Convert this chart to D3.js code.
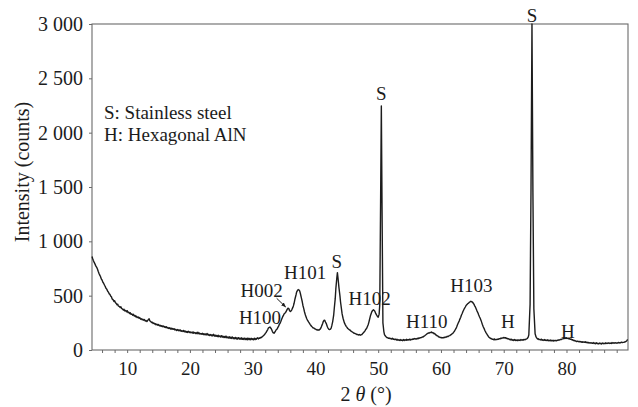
<!DOCTYPE html>
<html><head><meta charset="utf-8">
<script src="https://cdn.jsdelivr.net/npm/d3@7"></script>
<style>html,body{margin:0;padding:0;background:#fff}svg{display:block}
svg text{font-family:"Liberation Serif","Times New Roman",Times,serif !important;}</style>
</head><body><svg id="chart" width="638" height="407"></svg>
<script>
// XRD scan: [2θ (°), intensity (counts)]
const scan = [
[4.4,860],[4.5,842],[4.6,826],[4.75,806],[4.9,788],[5.0,774],[5.15,760],[5.25,748],[5.4,722],[5.5,706],[5.6,694],[5.75,676],[5.9,652],[6.0,644],[6.15,622],[6.25,614],[6.4,596],[6.5,586],[6.6,570],[6.75,560],
[6.9,540],[7.0,534],[7.15,516],[7.25,512],[7.4,494],[7.5,490],[7.6,470],[7.75,464],[7.9,446],[8.0,454],[8.15,434],[8.25,430],[8.4,416],[8.5,422],[8.6,404],[8.75,402],[8.9,390],[9.0,398],[9.15,380],[9.25,378],[9.4,368],[9.5,374],[9.6,360],[9.75,364],
[9.9,352],[10.0,362],[10.15,344],[10.25,348],[10.4,336],[10.5,342],[10.6,328],[10.75,332],[10.9,320],[11.0,328],[11.15,312],[11.25,318],[11.4,304],[11.5,310],[11.6,298],[11.75,304],[11.9,292],[12.0,298],[12.15,284],[12.25,288],[12.4,278],[12.5,284],
[12.6,274],[12.75,280],[12.9,266],[13.0,272],[13.15,262],[13.25,270],[13.4,280],[13.5,288],[13.6,270],[13.75,262],[13.9,252],[14.0,256],[14.15,244],[14.25,248],[14.4,238],[14.5,242],[14.6,232],[14.75,238],[14.9,228],[15.0,234],[15.15,222],[15.25,228],
[15.4,218],[15.5,224],[15.6,214],[15.75,222],[15.9,210],[16.0,216],[16.15,206],[16.25,214],[16.4,202],[16.5,208],[16.6,198],[16.75,204],[16.9,194],[17.0,202],[17.15,190],[17.25,198],[17.4,190],[17.5,196],[17.6,184],[17.75,190],[17.9,180],[18.0,188],
[18.15,178],[18.25,186],[18.4,176],[18.5,184],[18.6,172],[18.75,178],[18.9,170],[19.0,180],[19.15,168],[19.25,174],[19.4,164],[19.5,170],[19.6,162],[19.75,172],[19.9,160],[20.0,168],[20.15,158],[20.25,164],[20.4,156],[20.5,167],[20.6,154],[20.75,162],
[20.9,152],[21.0,160],[21.15,150],[21.25,164],[21.4,150],[21.5,156],[21.6,146],[21.75,152],[21.9,144],[22.0,154],[22.15,142],[22.25,150],[22.4,140],[22.5,148],[22.6,138],[22.75,152],[22.9,136],[23.0,144],[23.15,134],[23.25,142],[23.4,132],[23.5,140],
[23.6,130],[23.75,144],[23.9,128],[24.0,138],[24.15,126],[24.25,134],[24.4,124],[24.5,136],[24.6,122],[24.75,130],[24.9,120],[25.0,132],[25.15,118],[25.25,128],[25.4,116],[25.5,124],[25.6,114],[25.75,128],[25.9,112],[26.0,120],[26.15,110],[26.25,122],
[26.4,108],[26.5,118],[26.6,106],[26.75,120],[26.9,104],[27.0,114],[27.15,104],[27.25,116],[27.4,102],[27.5,112],[27.6,100],[27.75,114],[27.9,100],[28.0,110],[28.15,98],[28.25,112],[28.4,98],[28.5,108],[28.6,96],[28.75,110],[28.9,96],[29.0,106],
[29.15,94],[29.25,110],[29.4,96],[29.5,106],[29.6,94],[29.75,108],[29.9,96],[30.0,104],[30.15,94],[30.25,108],[30.4,96],[30.5,106],[30.6,100],[30.75,112],[30.9,102],[31.0,110],[31.15,108],[31.25,116],[31.4,114],[31.5,122],[31.6,126],[31.75,134],
[31.9,142],[32.0,152],[32.15,162],[32.25,174],[32.4,188],[32.5,202],[32.6,206],[32.75,212],[32.9,200],[33.0,192],[33.15,170],[33.25,160],[33.4,154],[33.5,162],[33.6,170],[33.75,186],[33.9,194],[34.0,206],[34.15,222],[34.25,236],[34.4,250],[34.5,264],
[34.6,280],[34.75,302],[34.9,318],[35.0,332],[35.15,340],[35.25,346],[35.4,362],[35.5,374],[35.6,384],[35.75,382],[35.9,360],[36.0,354],[36.15,362],[36.25,372],[36.4,392],[36.5,408],[36.6,430],[36.75,472],[36.9,506],[37.0,532],[37.15,548],[37.25,556],
[37.4,552],[37.5,542],[37.6,520],[37.75,482],[37.9,444],[38.0,412],[38.15,378],[38.25,352],[38.4,322],[38.5,306],[38.6,290],[38.75,272],[38.9,258],[39.0,250],[39.15,236],[39.25,228],[39.4,216],[39.5,212],[39.6,204],[39.75,202],[39.9,194],[40.0,194],
[40.15,186],[40.25,188],[40.4,182],[40.5,186],[40.6,184],[40.75,192],[40.9,206],[41.0,222],[41.15,244],[41.25,262],[41.4,274],[41.5,272],[41.6,258],[41.75,240],[41.9,214],[42.0,202],[42.15,190],[42.25,188],[42.4,192],[42.5,202],[42.6,222],[42.75,262],
[42.9,318],[43.0,382],[43.15,470],[43.25,562],[43.4,660],[43.5,712],[43.6,660],[43.75,572],[43.9,500],[44.0,442],[44.15,376],[44.25,332],[44.4,292],[44.5,272],[44.6,252],[44.75,234],[44.9,218],[45.0,210],[45.15,198],[45.25,194],[45.4,186],[45.5,184],
[45.6,176],[45.75,172],[45.9,164],[46.0,162],[46.15,154],[46.25,154],[46.4,148],[46.5,148],[46.6,142],[46.75,142],[46.9,138],[47.0,142],[47.15,136],[47.25,140],[47.4,142],[47.5,150],[47.6,156],[47.75,166],[47.9,176],[48.0,188],[48.15,198],[48.25,212],
[48.4,232],[48.5,252],[48.6,276],[48.75,312],[48.9,338],[49.0,354],[49.15,366],[49.25,370],[49.4,362],[49.5,352],[49.6,336],[49.75,322],[49.9,306],[50.0,302],[50.15,330],[50.25,420],[50.4,1500],[50.5,2245],[50.6,1400],
[50.75,250],[50.9,170],[51.0,142],[51.15,128],[51.25,122],[51.4,114],[51.5,114],[51.6,108],[51.75,110],[51.9,104],[52.0,106],[52.15,100],[52.25,108],[52.4,98],[52.5,102],[52.6,96],[52.75,100],[52.9,92],[53.0,98],[53.15,90],[53.25,94],
[53.4,88],[53.5,96],[53.6,88],[53.75,92],[53.9,86],[54.0,96],[54.15,88],[54.25,94],[54.4,90],[54.5,98],[54.6,90],[54.75,96],[54.9,92],[55.0,100],[55.15,92],[55.25,98],[55.4,96],[55.5,102],[55.6,98],[55.75,106],[55.9,100],[56.0,104],[56.15,100],[56.25,108],
[56.4,104],[56.5,112],[56.6,108],[56.75,114],[56.9,114],[57.0,120],[57.15,120],[57.25,126],[57.4,130],[57.5,136],[57.6,140],[57.75,148],[57.9,152],[58.0,158],[58.15,156],[58.25,162],[58.4,160],[58.5,166],[58.6,158],[58.75,160],[58.9,150],[59.0,152],
[59.15,140],[59.25,138],[59.4,130],[59.5,130],[59.6,122],[59.75,120],[59.9,114],[60.0,116],[60.15,110],[60.25,114],[60.4,112],[60.5,118],[60.6,114],[60.75,120],[60.9,120],[61.0,126],[61.15,124],[61.25,130],[61.4,132],[61.5,138],[61.6,140],[61.75,148],
[61.9,154],[62.0,162],[62.15,172],[62.25,184],[62.4,198],[62.5,212],[62.6,228],[62.75,248],[62.9,266],[63.0,282],[63.15,302],[63.25,320],[63.4,338],[63.5,354],[63.6,366],[63.75,384],[63.9,398],[64.0,410],[64.15,418],[64.25,426],[64.4,432],[64.5,438],
[64.6,442],[64.75,448],[64.9,444],[65.0,442],[65.15,430],[65.25,422],[65.4,404],[65.5,394],[65.6,380],[65.75,358],[65.9,340],[66.0,324],[66.15,304],[66.25,292],[66.4,270],[66.5,252],[66.6,234],[66.75,212],[66.9,194],[67.0,180],[67.15,162],[67.25,152],
[67.4,138],[67.5,130],[67.6,120],[67.75,114],[67.9,106],[68.0,106],[68.15,98],[68.25,100],[68.4,94],[68.5,102],[68.6,94],[68.75,98],[68.9,96],[69.0,100],[69.15,98],[69.25,104],[69.4,102],[69.5,108],[69.6,106],[69.75,112],[69.9,110],[70.0,116],
[70.15,110],[70.25,114],[70.4,106],[70.5,110],[70.6,102],[70.75,104],[70.9,96],[71.0,100],[71.15,92],[71.25,98],[71.4,90],[71.5,94],[71.6,88],[71.75,96],[71.9,88],[72.0,92],[72.15,86],[72.25,94],[72.4,88],[72.5,92],[72.6,88],[72.75,96],[72.9,90],[73.0,94],
[73.15,92],[73.25,98],[73.4,94],[73.5,100],[73.6,100],[73.75,106],[73.9,118],[74.0,140],[74.2,420],[74.35,1500],[74.5,3000],[74.65,1450],[74.8,380],[75.0,150],[75.15,120],[75.25,112],
[75.4,100],[75.5,104],[75.6,96],[75.75,98],[75.9,92],[76.0,100],[76.15,90],[76.25,94],[76.4,88],[76.5,96],[76.6,88],[76.75,92],[76.9,86],[77.0,94],[77.15,86],[77.25,90],[77.4,84],[77.5,92],[77.6,84],[77.75,88],[77.9,82],[78.0,90],[78.15,84],[78.25,88],
[78.4,84],[78.5,90],[78.6,88],[78.75,92],[78.9,92],[79.0,96],[79.15,96],[79.25,100],[79.4,102],[79.5,106],[79.6,104],[79.75,110],[79.9,106],[80.0,112],[80.15,106],[80.25,110],[80.4,102],[80.5,106],[80.6,98],[80.75,100],[80.9,92],[81.0,94],[81.15,86],[81.25,88],
[81.4,82],[81.5,84],[81.6,78],[81.75,82],[81.9,76],[82.0,80],[82.15,74],[82.25,78],[82.4,72],[82.5,76],[82.6,70],[82.75,74],[82.9,70],[83.0,76],[83.15,68],[83.25,72],[83.4,66],[83.5,70],[83.6,64],[83.75,68],[83.9,62],[84.0,66],[84.15,62],[84.25,68],
[84.4,60],[84.5,64],[84.6,58],[84.75,66],[84.9,58],[85.0,62],[85.15,56],[85.25,64],[85.4,58],[85.5,62],[85.6,56],[85.75,64],[85.9,58],[86.0,62],[86.15,58],[86.25,66],[86.4,60],[86.5,64],[86.6,60],[86.75,66],[86.9,60],[87.0,64],[87.15,60],[87.25,68],
[87.4,62],[87.5,66],[87.6,62],[87.75,68],[87.9,62],[88.0,66],[88.15,64],[88.25,70],[88.4,64],[88.5,68],[88.6,66],[88.75,72],[88.9,68],[89.0,70],[89.15,70],[89.25,74],[89.4,76],[89.5,80],[89.6,86],[89.75,96]
];

const xTickLabels = [10, 20, 30, 40, 50, 60, 70, 80];
const xMinorTicks = [6,8,10,12,14,16,18,20,22,24,26,28,30,32,34,36,38,40,42,44,46,48,50,52,54,56,58,60,62,64,66,68,70,72,74,76,78,80,82,84,86,88];
const yTickValues = [0, 500, 1000, 1500, 2000, 2500, 3000];
const yTickLabels = ["0", "500", "1 000", "1 500", "2 000", "2 500", "3 000"];

// peak labels: text, 2θ of label centre, counts at label baseline
const peakLabels = [
  ["S", 74.51, 3021],
  ["S", 50.50, 2301],
  ["S", 43.39, 752],
  ["H101", 38.37, 653],
  ["H002", 31.44, 485],
  ["H100", 31.17, 239],
  ["H102", 48.62, 414],
  ["H110", 57.73, 200],
  ["H103", 64.84, 536],
  ["H", 70.64, 200],
  ["H", 80.20, 108]
];
// arrow from H002 label to its shoulder: [2θ, counts] start, end
const arrowFrom = [33.82, 476];
const arrowTo = [35.25, 396];
const legendLines = ["S: Stainless steel", "H: Hexagonal AlN"];
const legendAnchor = [6.31, 2126];

const FONT = "Liberation Serif";
const svg = d3.select("#chart");
const x = d3.scaleLinear().domain([4.4, 89.8]).range([92, 628]);
const y = d3.scaleLinear().domain([0, 3000]).range([350, 24]);

const frameColor = "#6a6a6a";
const ink = "#1c1c1c";

// x axis
const xAxis = d3.axisBottom(x).tickValues(xMinorTicks).tickSize(3)
  .tickFormat(d => xTickLabels.includes(d) ? String(d) : "");
const gx = svg.append("g").attr("transform", `translate(0,${y(0)})`).call(xAxis);
gx.attr("font-family", null);
gx.select(".domain").remove();
gx.selectAll(".tick line").attr("stroke", frameColor);
gx.selectAll(".tick text").style("font-family", FONT).style("font-size", "19px")
  .attr("fill", ink).attr("y", 12).attr("dy", "0.71em");

// y axis
const yAxis = d3.axisLeft(y).tickValues(yTickValues).tickSize(3).tickPadding(6)
  .tickFormat((d, i) => yTickLabels[i]);
const gy = svg.append("g").attr("transform", `translate(${x(4.4)},0)`).call(yAxis);
gy.attr("font-family", null);
gy.select(".domain").remove();
gy.selectAll(".tick line").attr("stroke", frameColor);
gy.selectAll(".tick text").style("font-family", FONT).style("font-size", "20px").attr("fill", ink);

// frame
svg.append("rect")
  .attr("x", x(4.4)).attr("y", y(3000))
  .attr("width", x(89.8) - x(4.4)).attr("height", y(0) - y(3000))
  .attr("fill", "none").attr("stroke", frameColor).attr("stroke-width", 1.1);

// curve
const line = d3.line().x(d => x(d[0])).y(d => y(d[1]));
svg.append("path").datum(scan)
  .attr("d", line).attr("fill", "none").attr("stroke", ink)
  .attr("stroke-width", 1.4).attr("stroke-linejoin", "round");

// legend text
svg.append("g").selectAll("text").data(legendLines).join("text")
  .attr("x", x(legendAnchor[0]))
  .attr("y", (d, i) => y(legendAnchor[1]) + i * 21.7)
  .style("font-family", FONT).style("font-size", "19px").attr("fill", ink)
  .text(d => d);

// peak labels
svg.append("g").selectAll("text").data(peakLabels).join("text")
  .attr("x", d => x(d[1])).attr("y", d => y(d[2]))
  .attr("text-anchor", "middle")
  .style("font-family", FONT).style("font-size", "19px").attr("fill", ink)
  .text(d => d[0]);

// arrow
svg.append("defs").append("marker")
  .attr("id", "ah").attr("viewBox", "0 0 10 10").attr("refX", 9).attr("refY", 5)
  .attr("markerWidth", 5).attr("markerHeight", 5).attr("orient", "auto")
  .append("path").attr("d", "M0,1L10,5L0,9Z").attr("fill", ink);
svg.append("line")
  .attr("x1", x(arrowFrom[0])).attr("y1", y(arrowFrom[1]))
  .attr("x2", x(arrowTo[0])).attr("y2", y(arrowTo[1]))
  .attr("stroke", ink).attr("stroke-width", 1).attr("marker-end", "url(#ah)");

// axis titles
svg.append("text")
  .attr("transform", `translate(28.5,${172}) rotate(-90)`)
  .attr("text-anchor", "middle")
  .style("font-family", FONT).style("font-size", "20px").attr("fill", ink)
  .text("Intensity (counts)");

const xt = svg.append("text")
  .attr("x", 366).attr("y", 401)
  .attr("text-anchor", "middle")
  .style("font-family", FONT).style("font-size", "20px").attr("fill", ink);
xt.append("tspan").text("2 ");
xt.append("tspan").attr("font-style", "italic").text("θ");
xt.append("tspan").text(" (°)");
</script>
</body></html>
